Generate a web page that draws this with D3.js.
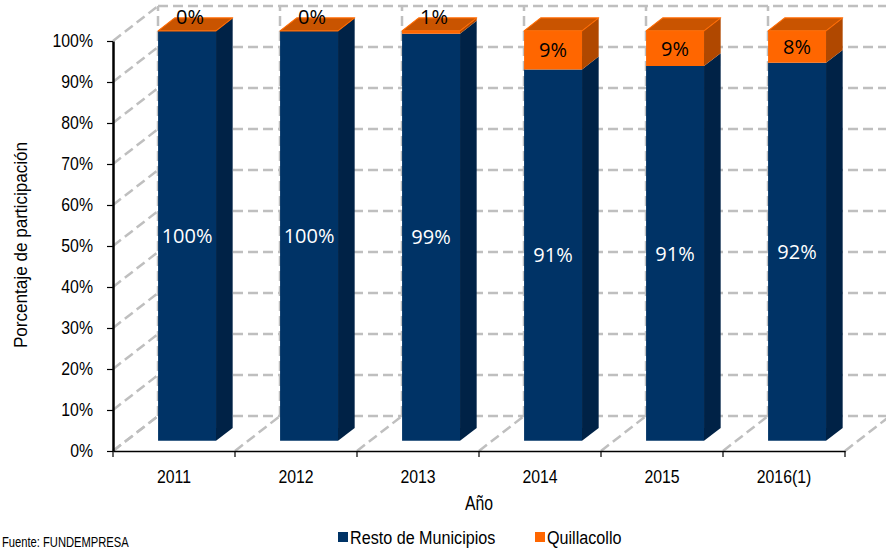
<!DOCTYPE html>
<html>
<head>
<meta charset="utf-8">
<script src="https://cdn.jsdelivr.net/npm/d3@7"></script>
<style>
  body { margin: 0; background: #fff; }
  text { font-family: "Liberation Sans", Arial, sans-serif; }
</style>
</head>
<body>
<div id="chart"></div>
<script>
// data (percent)
var years = ["2011", "2012", "2013", "2014", "2015", "2016(1)"];
var resto = [100, 100, 99.3, 90.6, 91.4, 92.2];
var quilla = [0, 0, 0.7, 9.4, 8.6, 7.8];
var yTicks = [0, 10, 20, 30, 40, 50, 60, 70, 80, 90, 100];
var seriesNames = ["Resto de Municipios", "Quillacollo"];

var W = 886, H = 550;
var DX = 45, DY = -35;        // full depth offset of the floor / walls
var d0 = 0.29, d1 = 0.66;     // bar depth span
var grid = "#BFBFBF";

// no narrow font installed: squeeze text horizontally
function narrow(sel, k) {
  sel.each(function() {
    var t = d3.select(this);
    var x = +t.attr("x") || 0;
    t.attr("x", x / k).attr("transform", "scale(" + k + ",1)");
  });
}

var svg = d3.select("#chart").append("svg")
    .attr("width", W).attr("height", H);

var xScale = d3.scaleBand().domain(years).range([113, 845]);
var yScale = d3.scaleLinear().domain([0, 100]).range([451, 41]);
var bw = xScale.bandwidth() * 0.475;

var gridG = svg.append("g")
    .attr("fill", "none")
    .attr("stroke", grid)
    .attr("stroke-width", 2.5)
    .attr("stroke-dasharray", "10,5");

// back wall horizontal lines
gridG.selectAll(".hback").data(yTicks).enter().append("line")
    .attr("x1", 113 + DX).attr("x2", 845 + DX)
    .attr("y1", d => yScale(d) + DY).attr("y2", d => yScale(d) + DY);
// left wall diagonals
gridG.selectAll(".hleft").data(yTicks).enter().append("line")
    .attr("x1", 113).attr("x2", 113 + DX)
    .attr("y1", d => yScale(d)).attr("y2", d => yScale(d) + DY);
// category boundaries: back wall verticals and floor diagonals
var bounds = years.map(d => xScale(d)).concat([845]);
gridG.selectAll(".vback").data(bounds).enter().append("line")
    .attr("x1", d => d + DX).attr("x2", d => d + DX)
    .attr("y1", yScale(0) + DY).attr("y2", yScale(100) + DY);
gridG.selectAll(".floor").data(bounds).enter().append("line")
    .attr("x1", d => d).attr("x2", d => d + DX)
    .attr("y1", yScale(0)).attr("y2", yScale(0) + DY);

// bars
var colors = {
  blue: {front: "#003366", side: "#002246", top: "#0A3D73", edge: "#003366"},
  orange: {front: "#FF6600", side: "#B04800", top: "#C95400", edge: "#FF6A00"}
};

var barsG = svg.append("g");
years.forEach(function(yr, i) {
  var xl = xScale(yr) + (xScale.bandwidth() - bw) / 2 + d0 * DX;
  var xr = xl + bw;
  var ddx = (d1 - d0) * DX, ddy = (d1 - d0) * DY;
  var segs = [
    {lo: 0, hi: resto[i], c: colors.blue, val: resto[i], txt: "#fff"},
    {lo: resto[i], hi: resto[i] + quilla[i], c: colors.orange, val: quilla[i], txt: "#000"}
  ];
  segs.forEach(function(s, k) {
    var yb = yScale(s.lo) + d0 * DY, yt = yScale(s.hi) + d0 * DY;
    var g = barsG.append("g");
    g.append("polygon")
        .attr("points", [[xl, yb], [xr, yb], [xr, yt], [xl, yt]].join(" "))
        .attr("fill", s.c.front);
    g.append("polygon")
        .attr("points", [[xr, yb], [xr + ddx, yb + ddy], [xr + ddx, yt + ddy], [xr, yt]].join(" "))
        .attr("fill", s.c.side);
    if (k === segs.length - 1) {
      g.append("polygon")
          .attr("points", [[xl, yt], [xr, yt], [xr + ddx, yt + ddy], [xl + ddx, yt + ddy]].join(" "))
          .attr("fill", s.c.top)
          .attr("stroke", s.c.edge)
          .attr("stroke-width", 1.2)
          .attr("stroke-linejoin", "round");
    }
  });
  // labels
  segs.forEach(function(s) {
    var yb = yScale(s.lo) + d0 * DY, yt = yScale(s.hi) + d0 * DY;
    var small = (yb - yt) < 14;
    var cy = small ? yt + ddy / 2 - 8 : (yb + yt) / 2;
    barsG.append("text")
        .attr("x", (xl + xr) / 2 + (small ? 3 : 0))
        .attr("y", cy)
        .attr("dy", "0.36em")
        .attr("text-anchor", "middle")
        .style("font-family", "'Open Sans', sans-serif")
        .style("font-size", "20px")
        .attr("fill", s.txt)
        .text(Math.round(s.val) + "%");
  });
});

// axes
var yAxis = svg.append("g")
    .attr("transform", "translate(113,0)")
    .call(d3.axisLeft(yScale).tickValues(yTicks).tickSize(6).tickSizeOuter(0)
      .tickFormat(d => d + "%"));
yAxis.select(".domain").attr("stroke", "#000").attr("stroke-width", 2.5);
yAxis.selectAll(".tick line").attr("stroke", "#000").attr("stroke-width", 1.2);
yAxis.selectAll("text")
    .style("font-family", "'Liberation Sans', Arial, sans-serif")
    .style("font-size", "18px").attr("fill", "#000").attr("x", -20);
narrow(yAxis.selectAll("text"), 0.88);

var xAxis = svg.append("g")
    .attr("transform", "translate(0,451)")
    .call(d3.axisBottom(xScale).tickSize(0).tickSizeOuter(0));
xAxis.select(".domain").attr("stroke", "#000").attr("stroke-width", 1.5);
xAxis.selectAll("text")
    .style("font-family", "'Liberation Sans', Arial, sans-serif")
    .style("font-size", "18px").attr("fill", "#000").attr("y", 19);
narrow(xAxis.selectAll("text"), 0.88);
xAxis.selectAll(".bnd").data(bounds).enter().append("line")
    .attr("x1", d => d).attr("x2", d => d)
    .attr("y1", 0).attr("y2", 6)
    .attr("stroke", "#000").attr("stroke-width", 1.2);

// titles
var xTitle = svg.append("text")
    .attr("x", 479).attr("y", 510)
    .attr("text-anchor", "middle")
    .style("font-size", "21px")
    .text("Año");
narrow(xTitle, 0.75);
svg.append("text")
    .attr("transform", "translate(27,245) rotate(-90) scale(0.9,1)")
    .attr("text-anchor", "middle")
    .style("font-size", "19px")
    .text("Porcentaje de participación");

// legend
var legend = svg.append("g").attr("transform", "translate(338,537)");
var legX = [0, 197];
seriesNames.forEach(function(n, i) {
  legend.append("rect")
      .attr("x", legX[i]).attr("y", -5)
      .attr("width", 10).attr("height", 10)
      .attr("fill", i === 0 ? colors.blue.front : colors.orange.front);
  var t = legend.append("text")
      .attr("x", legX[i] + 12).attr("y", 0)
      .attr("dy", "0.36em")
      .style("font-size", "19px")
      .text(n);
  narrow(t, 0.85);
});

// source, kept inside the frame
var src = svg.append("text")
    .attr("x", 2).attr("y", 547)
    .style("font-size", "14px")
    .text("Fuente: FUNDEMPRESA");
narrow(src, 0.8);
</script>
</body>
</html>
